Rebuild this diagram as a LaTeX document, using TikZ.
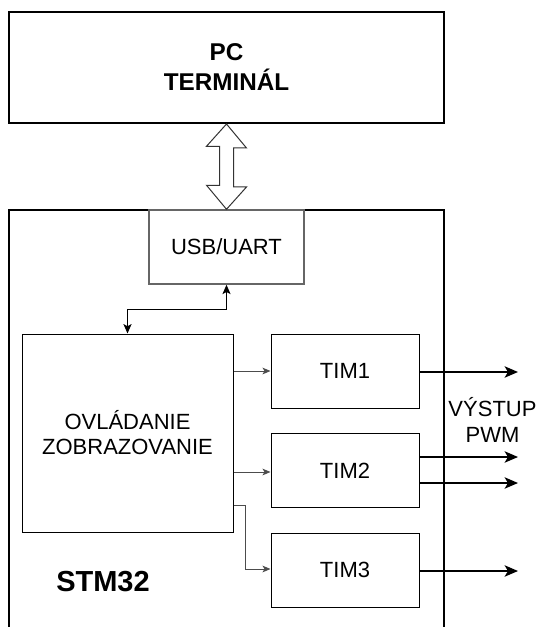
\documentclass[tikz,border=0pt]{standalone}
\usepackage{fontspec}
\setmainfont{Liberation Sans}
\usepackage{tikz}
\usetikzlibrary{arrows.meta,positioning,calc}

\begin{document}
\begin{tikzpicture}[x=0.75pt, y=-0.75pt,
    every node/.style={font=\fontsize{16.5}{19}\selectfont, align=center},
    frame/.style={draw=black, line width=1.5pt},
    block/.style={draw=black, line width=0.75pt, inner sep=0pt},
    usbbox/.style={draw=black!60, line width=1.1pt, inner sep=0pt, minimum width=116.25pt, minimum height=55.5pt},
    timbox/.style={block, minimum width=111pt, minimum height=55.5pt},
    thinlink/.style={draw=black!70, line width=0.75pt, -{Stealth[length=6pt,width=5pt,inset=1.5pt]}},
    pwm/.style={draw=black, line width=1.5pt, -{Stealth[length=10pt,width=8.5pt,inset=2.5pt]}}]
    \useasboundingbox (0,0) rectangle (539,627);

    % PC and the STM32 frame
    \node[frame, minimum width=326.25pt, minimum height=83.25pt, font=\fontsize{18.2}{22.5}\selectfont\bfseries] (pc) at (226.5,67.5) {PC\\TERMIN\'AL};
    \draw[frame] (9,627) coordinate (stmbl) -- (9,210) -- (444,210) -- (444,627) coordinate (stmbr);
    \node[font=\fontsize{21.75}{24}\selectfont\bfseries] (stm) at (103,582) {STM32};

    % blocks inside
    \node[usbbox] (usb) at (226.5,247) {USB/UART};
    \node[block, minimum width=158.25pt, minimum height=148.5pt, font=\fontsize{16.5}{18.75}\selectfont] (ctrl) at (127.5,433) {OVL\'ADANIE\\ZOBRAZOVANIE};
    \foreach \i/\y in {1/371,2/470.5,3/570}{
      \node[timbox] (tim\i) at (345,\y) {TIM\i};
    }
    \node[font=\fontsize{16.5}{20}\selectfont] (out) at (492.5,420) {V\'YSTUP\\PWM};

    % link PC -- USB/UART
    \draw[draw=black!80, line width=0.75pt, fill=white, line join=miter]
      (pc.south) -- ++(20,24) -- ++(-13,0) -- ++(0,39) -- ++(13,0) -- (usb.north)
      -- ++(-20,-24) -- ++(13,0) -- ++(0,-39) -- ++(-13,0) -- cycle;

    % USB/UART -- control
    \draw[line width=1pt, {Stealth[length=7pt,width=6pt,inset=1.5pt]}-{Stealth[length=7pt,width=6pt,inset=1.5pt]}]
      (usb.south) -- ++(0,25) -| ($(ctrl.north west)!0.5!(ctrl.north east)$);

    % control -- timers
    \draw[thinlink] (ctrl.east |- tim1.west) -- (tim1.west);
    \draw[thinlink] (ctrl.east |- 0,472) -- (tim2.west |- 0,472);
    \draw[thinlink] (ctrl.east |- 0,505) -- (245,505) |- (tim3.west |- 0,569);

    % PWM outputs
    \draw[pwm] (tim1.east |- 0,372) -- (518,372);
    \draw[pwm] (tim2.east |- 0,457) -- (518,457);
    \draw[pwm] (tim2.east |- 0,483) -- (518,483);
    \draw[pwm] (tim3.east |- 0,571) -- (518,571);
\end{tikzpicture}
\end{document}
